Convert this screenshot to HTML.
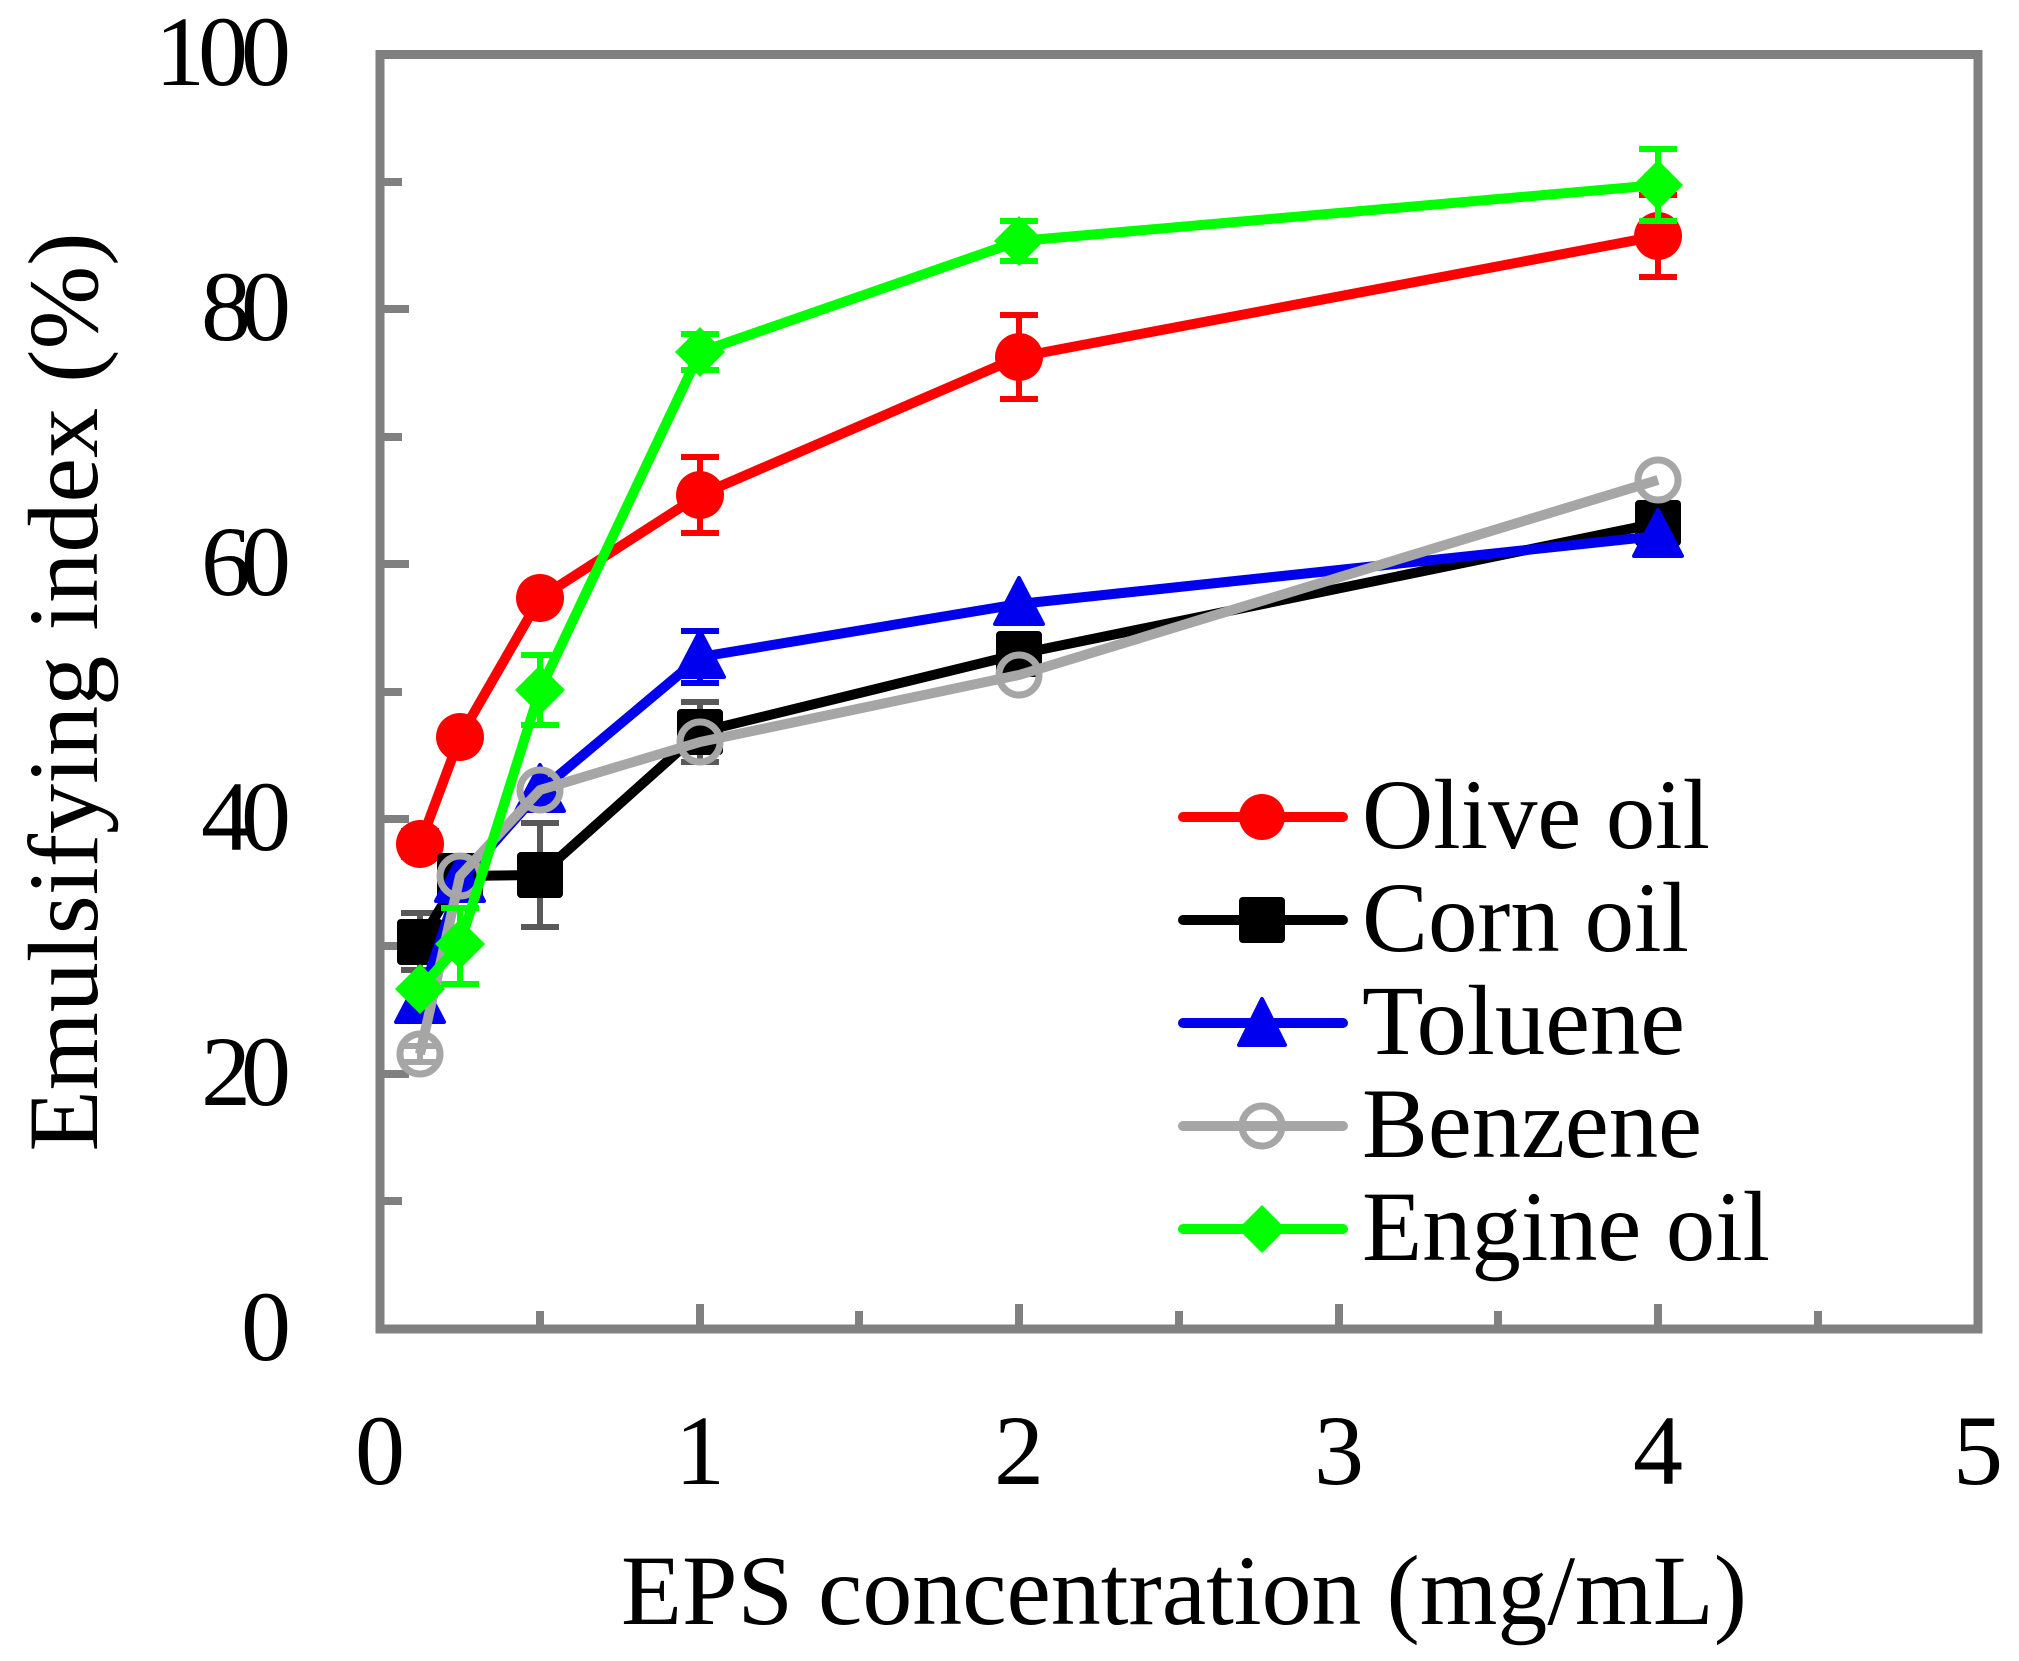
<!DOCTYPE html>
<html><head><meta charset="utf-8"><style>html,body{margin:0;padding:0;background:#fff}svg{display:block}</style></head>
<body>
<svg width="2019" height="1661" viewBox="0 0 2019 1661" xmlns="http://www.w3.org/2000/svg" font-family="Liberation Serif, serif">
<rect width="2019" height="1661" fill="#fff"/>
<!-- axes box -->
<rect x="380" y="54.5" width="1598" height="1274.5" fill="none" stroke="#808080" stroke-width="9"/>
<!-- y ticks -->
<g stroke="#808080" stroke-width="8">
<line x1="380" y1="1201" x2="402" y2="1201"/>
<line x1="380" y1="1074" x2="409" y2="1074"/>
<line x1="380" y1="946" x2="402" y2="946"/>
<line x1="380" y1="819" x2="409" y2="819"/>
<line x1="380" y1="692" x2="402" y2="692"/>
<line x1="380" y1="564" x2="409" y2="564"/>
<line x1="380" y1="437" x2="402" y2="437"/>
<line x1="380" y1="309" x2="409" y2="309"/>
<line x1="380" y1="182" x2="402" y2="182"/>
<!-- x ticks -->
<line x1="540" y1="1329" x2="540" y2="1311"/>
<line x1="700" y1="1329" x2="700" y2="1304"/>
<line x1="859" y1="1329" x2="859" y2="1311"/>
<line x1="1019" y1="1329" x2="1019" y2="1304"/>
<line x1="1179" y1="1329" x2="1179" y2="1311"/>
<line x1="1339" y1="1329" x2="1339" y2="1304"/>
<line x1="1498" y1="1329" x2="1498" y2="1311"/>
<line x1="1658" y1="1329" x2="1658" y2="1304"/>
<line x1="1818" y1="1329" x2="1818" y2="1311"/>
</g>
<!-- y labels -->
<g font-size="100" text-anchor="end" fill="#000">
<text x="291" y="85" textLength="136">100</text>
<text x="291" y="340" textLength="90">80</text>
<text x="291" y="595" textLength="90">60</text>
<text x="291" y="850" textLength="90">40</text>
<text x="291" y="1105" textLength="90">20</text>
<text x="291" y="1360" textLength="45">0</text>
</g>
<!-- x labels -->
<g font-size="100" text-anchor="middle" fill="#000">
<text x="380" y="1484">0</text>
<text x="700" y="1484">1</text>
<text x="1019" y="1484">2</text>
<text x="1339" y="1484">3</text>
<text x="1658" y="1484">4</text>
<text x="1978" y="1484">5</text>
</g>
<text x="1184" y="1624" font-size="100" text-anchor="middle" textLength="1126" lengthAdjust="spacingAndGlyphs">EPS concentration (mg/mL)</text>
<text transform="translate(97,692) rotate(-90)" font-size="100" text-anchor="middle" textLength="919" lengthAdjust="spacingAndGlyphs">Emulsifying index (%)</text>

<!-- Olive -->
<g stroke="#ff0000" stroke-width="6">
<line x1="401" y1="831" x2="439" y2="831"/><line x1="401" y1="857" x2="439" y2="857"/><line x1="420" y1="831" x2="420" y2="857"/>
<line x1="681" y1="457" x2="719" y2="457"/><line x1="681" y1="533" x2="719" y2="533"/><line x1="700" y1="457" x2="700" y2="533"/>
<line x1="1000" y1="315" x2="1038" y2="315"/><line x1="1000" y1="399" x2="1038" y2="399"/><line x1="1019" y1="315" x2="1019" y2="399"/>
<line x1="1639" y1="195" x2="1677" y2="195"/><line x1="1639" y1="277" x2="1677" y2="277"/><line x1="1658" y1="195" x2="1658" y2="277"/>
</g>
<polyline points="420,844 460,737 540,598 700,495 1019,357 1658,236" fill="none" stroke="#ff0000" stroke-width="10" stroke-linejoin="round"/>
<g fill="#ff0000"><circle cx="420" cy="844" r="24"/><circle cx="460" cy="737" r="24"/><circle cx="540" cy="598" r="24"/><circle cx="700" cy="495" r="24"/><circle cx="1019" cy="357" r="24"/><circle cx="1658" cy="236" r="24"/></g>

<!-- Corn -->
<g stroke="#595959" stroke-width="6">
<line x1="401" y1="913" x2="439" y2="913"/><line x1="401" y1="970" x2="439" y2="970"/><line x1="420" y1="913" x2="420" y2="970"/>
<line x1="521" y1="823" x2="559" y2="823"/><line x1="521" y1="927" x2="559" y2="927"/><line x1="540" y1="823" x2="540" y2="927"/>
<line x1="681" y1="702" x2="719" y2="702"/><line x1="681" y1="762" x2="719" y2="762"/><line x1="700" y1="702" x2="700" y2="762"/>
</g>
<polyline points="420,942 460,876 540,875 700,732 1019,654 1658,523" fill="none" stroke="#000" stroke-width="10" stroke-linejoin="round"/>
<g fill="#000"><rect x="397" y="919" width="46" height="46" rx="4"/><rect x="437" y="853" width="46" height="46" rx="4"/><rect x="517" y="852" width="46" height="46" rx="4"/><rect x="677" y="709" width="46" height="46" rx="4"/><rect x="996" y="631" width="46" height="46" rx="4"/><rect x="1635" y="500" width="46" height="46" rx="4"/></g>

<!-- Toluene -->
<g stroke="#0000ee" stroke-width="6">
<line x1="681" y1="631" x2="719" y2="631"/><line x1="681" y1="683" x2="719" y2="683"/><line x1="700" y1="631" x2="700" y2="683"/>
</g>
<polyline points="420,1002 460,881 540,791 700,657 1019,604 1658,536" fill="none" stroke="#0000ee" stroke-width="10" stroke-linejoin="round"/>
<g fill="#0000ee" stroke="#0000ee" stroke-width="4" stroke-linejoin="round">
<polygon points="420,976 444,1022 396,1022"/><polygon points="460,855 484,901 436,901"/><polygon points="540,765 564,811 516,811"/><polygon points="700,631 724,677 676,677"/><polygon points="1019,578 1043,624 995,624"/><polygon points="1658,510 1682,556 1634,556"/>
</g>

<!-- Benzene -->
<g stroke="#a6a6a6" stroke-width="6">
<line x1="403" y1="1046" x2="437" y2="1046"/><line x1="403" y1="1062" x2="437" y2="1062"/><line x1="420" y1="1046" x2="420" y2="1062"/>
</g>
<polyline points="420,1054 460,876 540,790 700,742 1019,675 1658,480" fill="none" stroke="#a6a6a6" stroke-width="10" stroke-linejoin="round"/>
<g fill="none" stroke="#a6a6a6" stroke-width="7"><circle cx="420" cy="1054" r="20"/><circle cx="460" cy="876" r="20"/><circle cx="540" cy="790" r="20"/><circle cx="700" cy="742" r="20"/><circle cx="1019" cy="675" r="20"/><circle cx="1658" cy="480" r="20"/></g>

<!-- Engine -->
<g stroke="#00ff00" stroke-width="6">
<line x1="441" y1="908" x2="479" y2="908"/><line x1="441" y1="984" x2="479" y2="984"/><line x1="460" y1="908" x2="460" y2="984"/>
<line x1="521" y1="655" x2="559" y2="655"/><line x1="521" y1="725" x2="559" y2="725"/><line x1="540" y1="655" x2="540" y2="725"/>
<line x1="681" y1="334" x2="719" y2="334"/><line x1="681" y1="370" x2="719" y2="370"/><line x1="700" y1="334" x2="700" y2="370"/>
<line x1="1000" y1="221" x2="1038" y2="221"/><line x1="1000" y1="261" x2="1038" y2="261"/><line x1="1019" y1="221" x2="1019" y2="261"/>
<line x1="1639" y1="149" x2="1677" y2="149"/><line x1="1639" y1="221" x2="1677" y2="221"/><line x1="1658" y1="149" x2="1658" y2="221"/>
</g>
<polyline points="420,989 460,944 540,690 700,352 1019,241 1658,185" fill="none" stroke="#00ff00" stroke-width="10" stroke-linejoin="round"/>
<g fill="#00ff00"><polygon points="420,964 445,989 420,1014 395,989"/><polygon points="460,919 485,944 460,969 435,944"/><polygon points="540,665 565,690 540,715 515,690"/><polygon points="700,327 725,352 700,377 675,352"/><polygon points="1019,216 1044,241 1019,266 994,241"/><polygon points="1658,160 1683,185 1658,210 1633,185"/></g>

<!-- Legend -->
<g stroke-width="10" stroke-linecap="round">
<line x1="1183" y1="817" x2="1343" y2="817" stroke="#ff0000"/>
<line x1="1183" y1="920" x2="1343" y2="920" stroke="#000"/>
<line x1="1183" y1="1023" x2="1343" y2="1023" stroke="#0000ee"/>
<line x1="1183" y1="1126" x2="1343" y2="1126" stroke="#a6a6a6"/>
<line x1="1183" y1="1229" x2="1343" y2="1229" stroke="#00ff00"/>
</g>
<circle cx="1262" cy="817" r="23" fill="#ff0000"/>
<rect x="1239" y="897" width="46" height="46" rx="4" fill="#000"/>
<polygon points="1262,999 1285,1045 1239,1045" fill="#0000ee" stroke="#0000ee" stroke-width="4" stroke-linejoin="round"/>
<circle cx="1262" cy="1126" r="20" fill="none" stroke="#a6a6a6" stroke-width="7"/>
<polygon points="1262,1205 1286,1229 1262,1253 1238,1229" fill="#00ff00"/>
<g font-size="100" fill="#000">
<text x="1362" y="848" textLength="348" lengthAdjust="spacingAndGlyphs">Olive oil</text>
<text x="1362" y="951" textLength="327" lengthAdjust="spacingAndGlyphs">Corn oil</text>
<text x="1362" y="1054" textLength="323" lengthAdjust="spacingAndGlyphs">Toluene</text>
<text x="1362" y="1157" textLength="340" lengthAdjust="spacingAndGlyphs">Benzene</text>
<text x="1362" y="1260" textLength="408" lengthAdjust="spacingAndGlyphs">Engine oil</text>
</g>
</svg>
</body></html>
